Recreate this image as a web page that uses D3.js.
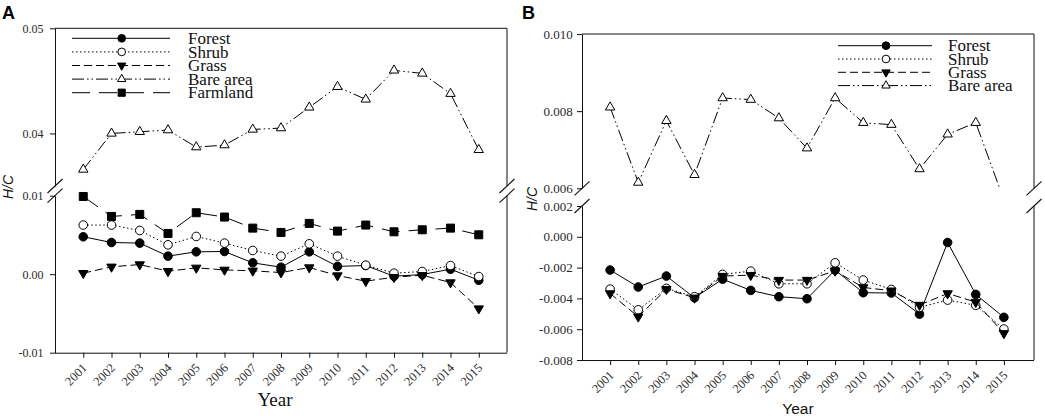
<!DOCTYPE html>
<html><head><meta charset="utf-8">
<script src="https://cdn.jsdelivr.net/npm/d3@7"></script>
<style>body{margin:0;background:#fff}svg{display:block}</style>
</head><body>
<svg id="chart" width="1045" height="416"></svg>
<script>
// ---------- data ----------
const years = [2001,2002,2003,2004,2005,2006,2007,2008,2009,2010,2011,2012,2013,2014,2015];

// Panel A
const aForest = [0.00477,0.00404,0.00396,0.00230,0.00285,0.00289,0.00145,0.00089,0.00285,0.00100,0.00110,-0.00026,-0.00004,0.00064,-0.00077];
const aShrub  = [0.00626,0.00626,0.00557,0.00374,0.00481,0.00396,0.00302,0.00230,0.00387,0.00230,0.00115,0.00013,0.00034,0.00110,-0.00030];
const aGrass  = [0.00013,0.00094,0.00123,0.00038,0.00081,0.00055,0.00043,0.00021,0.00085,-0.00017,-0.00089,-0.00038,-0.00013,-0.00106,-0.00438];
const aBare   = [0.03657,0.04000,0.04016,0.04032,0.03870,0.03889,0.04038,0.04051,0.04248,0.04444,0.04324,0.04600,0.04571,0.04378,0.03844];
const aFarm   = [0.00990,0.00736,0.00762,0.00519,0.00783,0.00728,0.00587,0.00532,0.00647,0.00549,0.00626,0.00540,0.00566,0.00587,0.00502];
const aUpperTicks = [0.04, 0.05];
const aLowerTicks = [-0.01, 0.00, 0.01];

// Panel B
const bForest = [-0.00216,-0.00326,-0.00255,-0.00396,-0.00275,-0.00348,-0.00389,-0.00402,-0.00216,-0.00363,-0.00365,-0.00502,-0.00037,-0.00374,-0.00523];
const bShrub  = [-0.00340,-0.00474,-0.00335,-0.00389,-0.00244,-0.00223,-0.00305,-0.00305,-0.00169,-0.00281,-0.00342,-0.00458,-0.00411,-0.00445,-0.00599];
const bGrass  = [-0.00368,-0.00519,-0.00340,-0.00396,-0.00255,-0.00249,-0.00281,-0.00281,-0.00221,-0.00329,-0.00350,-0.00443,-0.00368,-0.00424,-0.00627];
const bBare   = [0.00810,0.00615,0.00775,0.00635,0.00834,0.00830,0.00782,0.00704,0.00834,0.00770,0.00765,0.00650,0.00740,0.00770,0.00570];
const bUpperTicks = [0.006, 0.008, 0.010];
const bLowerTicks = [-0.008, -0.006, -0.004, -0.002, 0.000, 0.002];

// ---------- styles ----------
const serif = "'Liberation Serif','Times New Roman',serif";
const sans = "'Liberation Sans',Arial,sans-serif";
const styleOf = {
  "Forest":    {dash: null, sym: d3.symbolCircle, size: 58, fill: "#000", rot: 0},
  "Shrub":     {dash: "1.5,2.5", sym: d3.symbolCircle, size: 58, fill: "#fff", rot: 0},
  "Grass":     {dash: "8,4", sym: d3.symbolTriangle, size: 38, fill: "#000", rot: 180},
  "Bare area": {dash: "12,3,1.5,3,1.5,3", sym: d3.symbolTriangle, size: 38, fill: "#fff", rot: 0},
  "Farmland":  {dash: "18,9", sym: d3.symbolSquare, size: 64, fill: "#000", rot: 0}
};

const svg = d3.select("#chart");

function drawPanel(cfg) {
  const g = svg.append("g");
  const x = d3.scaleLinear().domain([2000, 2016]).range([cfg.xr0, cfg.xr1]);
  const yU = d3.scaleLinear().domain(cfg.upperDomain).range([cfg.upperBottom, cfg.top]);
  const yL = d3.scaleLinear().domain(cfg.lowerDomain).range([cfg.bottom, cfg.lowerTop]);
  const fmt = v => d3.format(cfg.fmt)(v).replace("\u2212", "-");

  // left axes
  const axU = g.append("g").attr("transform", `translate(${cfg.left},0)`)
    .call(d3.axisLeft(yU).tickValues(cfg.upperTicks).tickFormat(fmt).tickSize(5).tickSizeOuter(0).tickPadding(cfg.pad));
  const axL = g.append("g").attr("transform", `translate(${cfg.left},0)`)
    .call(d3.axisLeft(yL).tickValues(cfg.lowerTicks).tickFormat(fmt).tickSize(5).tickSizeOuter(0).tickPadding(cfg.pad));
  [axU, axL].forEach(a => {
    a.selectAll("text").attr("font-family", serif).attr("font-size", cfg.tickFont).attr("fill", "#2a2a2a");
    a.selectAll("line,path").attr("stroke", "#111");
  });

  // bottom axis
  const axB = g.append("g").attr("transform", `translate(0,${cfg.bottom})`)
    .call(d3.axisBottom(x).tickValues(years).tickFormat(d3.format("d")).tickSize(5).tickSizeOuter(0));
  axB.select(".domain").attr("d", `M${cfg.left},0.5H${cfg.right}`).attr("stroke", "#111");
  axB.selectAll("line").attr("stroke", "#111");
  axB.selectAll("text")
    .attr("font-family", serif).attr("font-size", 12.5).attr("fill", "#2a2a2a")
    .attr("text-anchor", "end").attr("x", 0).attr("y", 0).attr("dy", 0)
    .attr("transform", "translate(4,16) rotate(-45)");

  // frame: top and right (broken)
  g.append("line").attr("x1", cfg.left).attr("x2", cfg.right).attr("y1", cfg.top).attr("y2", cfg.top).attr("stroke", "#111");
  g.append("line").attr("x1", cfg.right).attr("x2", cfg.right).attr("y1", cfg.top).attr("y2", cfg.upperBottom).attr("stroke", "#111");
  g.append("line").attr("x1", cfg.right).attr("x2", cfg.right).attr("y1", cfg.lowerTop).attr("y2", cfg.bottom).attr("stroke", "#111");

  // break marks
  [cfg.left, cfg.right].forEach(bx => {
    [cfg.upperBottom, cfg.lowerTop].forEach(by => {
      g.append("line").attr("x1", bx - 7.5).attr("y1", by + 7).attr("x2", bx + 7.5).attr("y2", by - 7)
        .attr("stroke", "#111").attr("stroke-width", 1.1);
    });
  });

  // clip for upper segment
  const clipId = "clip" + cfg.name;
  svg.append("clipPath").attr("id", clipId).append("rect")
    .attr("x", cfg.left).attr("y", cfg.top).attr("width", cfg.right - cfg.left).attr("height", cfg.upperBottom - cfg.top);

  const plot = g.append("g");
  cfg.series.forEach(s => {
    const st = styleOf[s.name];
    const ys = s.upper ? yU : yL;
    const sg = plot.append("g");
    if (s.upper) sg.attr("clip-path", `url(#${clipId})`);
    const pts = years.map((yr, i) => [yr, s.values[i]]);
    sg.append("path").datum(pts)
      .attr("d", d3.line().x(d => x(d[0])).y(d => ys(d[1])))
      .attr("fill", "none").attr("stroke", "#000").attr("stroke-width", 1)
      .attr("stroke-dasharray", st.dash);
    s.g = sg; s.pts = pts; s.ys = ys;
  });
  cfg.series.forEach(s => {
    const st = styleOf[s.name];
    s.g.selectAll("path.m").data(s.pts).join("path").attr("class", "m")
      .attr("d", d3.symbol().type(st.sym).size(st.size))
      .attr("transform", d => `translate(${x(d[0])},${s.ys(d[1])}) rotate(${st.rot})`)
      .attr("fill", st.fill).attr("stroke", "#000").attr("stroke-width", 1);
  });

  // legend
  const lg = g.append("g");
  cfg.series.forEach((s, i) => {
    const st = styleOf[s.name];
    const y = cfg.legend.y0 + i * cfg.legend.dy;
    lg.append("line").attr("x1", cfg.legend.x1).attr("x2", cfg.legend.x2).attr("y1", y).attr("y2", y)
      .attr("stroke", "#000").attr("stroke-width", 1).attr("stroke-dasharray", st.dash);
    lg.append("path").attr("d", d3.symbol().type(st.sym).size(st.size * 0.8)())
      .attr("transform", `translate(${cfg.legend.mx},${y}) rotate(${st.rot})`)
      .attr("fill", st.fill).attr("stroke", "#000");
    lg.append("text").attr("x", cfg.legend.tx).attr("y", y).attr("dy", "0.33em")
      .attr("font-family", serif).attr("font-size", 17).attr("fill", "#111").text(s.name);
  });

  // axis titles
  g.append("text").attr("x", cfg.year.x).attr("y", cfg.year.y).attr("text-anchor", "middle")
    .attr("font-family", cfg.year.font).attr("font-size", cfg.year.size).attr("fill", "#111").text("Year");
  g.append("text").attr("transform", `translate(${cfg.hc.x},${cfg.hc.y}) rotate(-90)`).attr("text-anchor", "middle")
    .attr("font-family", sans).attr("font-style", "italic").attr("font-size", 14).attr("fill", "#111").text("H/C");
  g.append("text").attr("x", cfg.letter.x).attr("y", cfg.letter.y)
    .attr("font-family", sans).attr("font-weight", "bold").attr("font-size", 18).attr("fill", "#000").text(cfg.name);
}

drawPanel({
  name: "A", left: 55, right: 507, xr0: 55, xr1: 507, top: 28.3, bottom: 352.7,
  upperDomain: [0.035, 0.05], upperBottom: 186, lowerDomain: [-0.01, 0.01], lowerTop: 195.7,
  upperTicks: aUpperTicks, lowerTicks: aLowerTicks, fmt: ".2f", tickFont: 12, pad: 6.5,
  series: [
    {name: "Forest", values: aForest},
    {name: "Shrub", values: aShrub},
    {name: "Grass", values: aGrass},
    {name: "Bare area", values: aBare, upper: true},
    {name: "Farmland", values: aFarm}
  ],
  legend: {x1: 72, x2: 170, mx: 121.7, tx: 188, y0: 38.3, dy: 13.6},
  year: {x: 275, y: 406, font: serif, size: 19},
  hc: {x: 12.5, y: 187},
  letter: {x: 2, y: 19}
});

drawPanel({
  name: "B", left: 582, right: 1034, xr0: 582, xr1: 1032, top: 34, bottom: 360,
  upperDomain: [0.006, 0.010], upperBottom: 188.3, lowerDomain: [-0.008, 0.002], lowerTop: 206,
  upperTicks: bUpperTicks, lowerTicks: bLowerTicks, fmt: ".3f", tickFont: 13, pad: 4.3,
  series: [
    {name: "Forest", values: bForest},
    {name: "Shrub", values: bShrub},
    {name: "Grass", values: bGrass},
    {name: "Bare area", values: bBare, upper: true}
  ],
  legend: {x1: 838, x2: 932, mx: 886, tx: 948, y0: 45.7, dy: 13.3},
  year: {x: 798, y: 414, font: sans, size: 15.5},
  hc: {x: 536.5, y: 199},
  letter: {x: 522, y: 19}
});
</script>
</body></html>
